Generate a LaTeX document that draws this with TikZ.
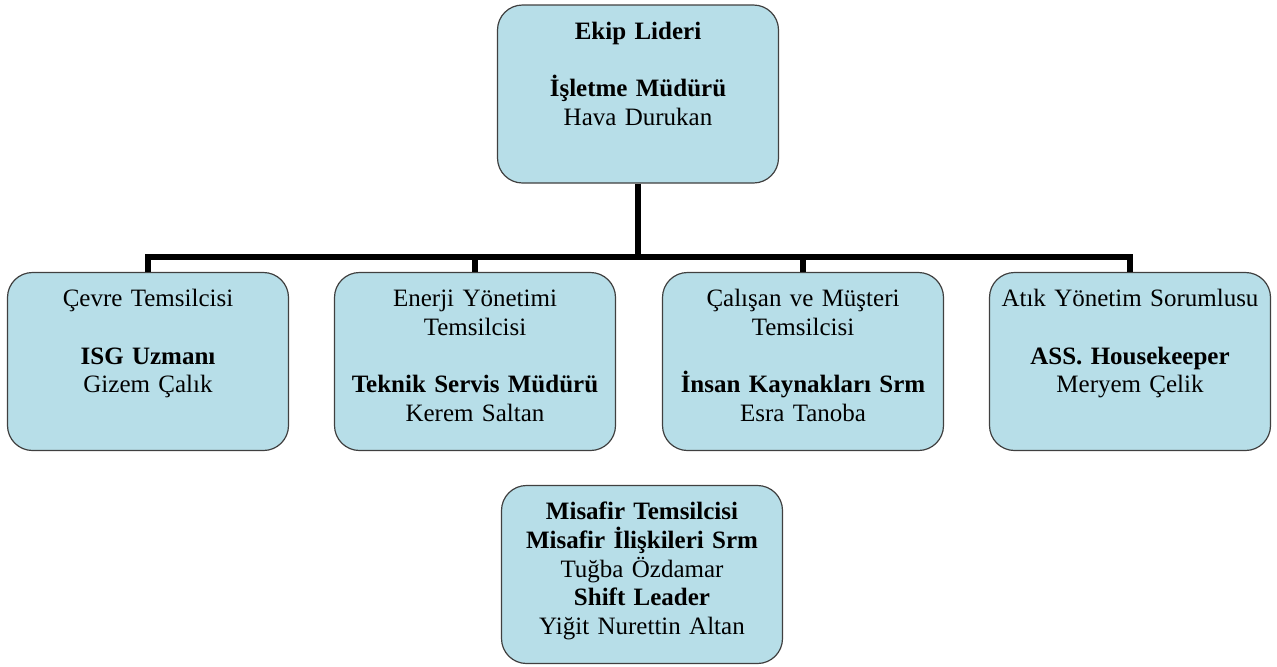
\documentclass[tikz,border=0pt]{standalone}
\usepackage{fontspec}
\setmainfont{Liberation Serif}
\definecolor{kutu}{HTML}{B7DEE8}
\begin{document}
\begin{tikzpicture}[x=0.5pt,y=-0.5pt,
  birim/.style={draw=black!75, line width=0.6pt, fill=kutu, rounded corners=12.5pt,
    text width=140.5pt, align=center, inner xsep=0pt, inner ysep=0pt,
    text height=17pt, text depth=72pt, font=\fontsize{12.5}{14.4}\selectfont},
  hat/.style={line width=3pt}]
\useasboundingbox (0,0) rectangle (1277,666);

% ekip lideri
\node[birim] (lider) at (638,94) {\textbf{Ekip Lideri}\\[14.4pt]
  \textbf{İşletme Müdürü}\\Hava Durukan};

% temsilciler
\node[birim] (cevre) at (148,361.5) {Çevre Temsilcisi\\[14.4pt]
  \textbf{ISG Uzmanı}\\Gizem Çalık};
\node[birim] (enerji) at (475,361.5) {Enerji Yönetimi\\Temsilcisi\\[14.4pt]
  \textbf{Teknik Servis Müdürü}\\Kerem Saltan};
\node[birim] (calisan) at (803,361.5) {Çalışan ve Müşteri\\Temsilcisi\\[14.4pt]
  \textbf{İnsan Kaynakları Srm}\\Esra Tanoba};
\node[birim] (atik) at (1130,361.5) {Atık Yönetim Sorumlusu\\[14.4pt]
  \textbf{ASS. Housekeeper}\\Meryem Çelik};

% misafir temsilcisi (bagli degil)
\node[birim] (misafir) at (642,574.5) {\textbf{Misafir Temsilcisi}\\
  \textbf{Misafir İlişkileri Srm}\\Tuğba Özdamar\\
  \textbf{Shift Leader}\\Yiğit Nurettin Altan};

% baglantilar
\coordinate (bar) at (638,257);
\draw[hat] (lider) -- (bar);
\foreach \ad in {cevre,enerji,calisan,atik}
  \draw[hat] (bar) -| (\ad);
\end{tikzpicture}
\end{document}
